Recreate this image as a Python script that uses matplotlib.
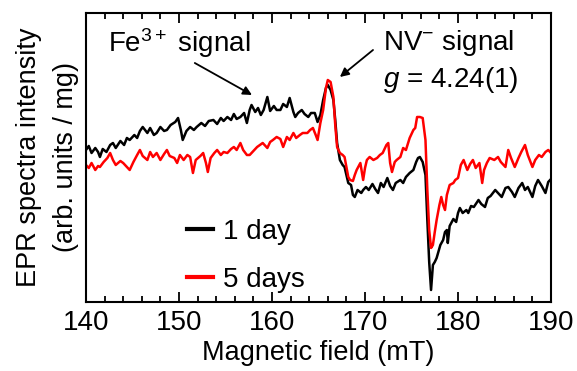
import matplotlib
matplotlib.use("Agg")
import matplotlib.pyplot as plt
from matplotlib.ticker import MultipleLocator

plt.rcParams['font.family'] = ['Liberation Sans', 'DejaVu Sans']
plt.rcParams['mathtext.fontset'] = 'custom'
plt.rcParams['mathtext.rm'] = 'Liberation Sans'
plt.rcParams['mathtext.it'] = 'Liberation Sans:italic'
plt.rcParams['mathtext.default'] = 'regular'

# 1 day sample (field in mT, intensity in arb. units)
field_1d = [140.0, 140.3, 140.6, 141.0, 141.3, 141.5, 141.8, 142.2, 142.6, 142.9,
            143.2, 143.7, 144.1, 144.4, 144.7, 145.2, 145.5, 145.8, 146.1, 146.6,
            146.9, 147.3, 147.6, 148.0, 148.4, 148.7, 149.1, 149.6, 149.9, 150.2,
            150.4, 150.8, 151.2, 151.6, 151.9, 152.4, 152.8, 153.2, 153.7, 154.1,
            154.5, 154.8, 155.2, 155.6, 155.9, 156.2, 156.6, 157.0, 157.3, 157.6,
            157.8, 158.2, 158.5, 158.8, 159.1, 159.5, 159.8, 160.2, 160.5, 160.9,
            161.2, 161.6, 161.9, 162.3, 162.5, 162.8, 163.2, 163.5, 163.9, 164.2,
            164.6, 164.9, 165.2, 165.5, 165.8, 166.0, 166.3, 166.6, 166.8, 167.0,
            167.3, 167.6, 167.8, 168.2, 168.5, 168.7, 168.9, 169.2, 169.6, 169.8,
            170.1, 170.4, 170.8, 171.1, 171.4, 171.7, 172.0, 172.4, 172.7, 173.0,
            173.3, 173.8, 174.1, 174.4, 174.8, 175.2, 175.5, 175.7, 175.9, 176.2,
            176.5, 176.7, 176.9, 177.1, 177.3, 177.5, 177.7, 178.1, 178.4, 178.6,
            178.8, 178.9, 179.1, 179.5, 179.8, 180.0, 180.2, 180.5, 180.9, 181.1,
            181.4, 181.7, 182.2, 182.5, 182.9, 183.2, 183.5, 184.0, 184.3, 184.7,
            185.1, 185.4, 185.8, 186.1, 186.5, 186.9, 187.2, 187.5, 188.0, 188.3,
            188.6, 189.0, 189.4, 189.7, 189.9]
signal_1d = [152, 156, 149, 154, 150, 145, 153, 150, 157, 159,
             154, 161, 157, 164, 162, 167, 164, 171, 175, 169,
             174, 167, 169, 175, 171, 172, 177, 180, 184, 172,
             162, 171, 175, 172, 175, 179, 176, 181, 182, 178,
             184, 181, 185, 182, 188, 183, 185, 189, 179, 192,
             197, 190, 194, 187, 192, 205, 191, 196, 192, 192,
             198, 195, 204, 190, 185, 189, 192, 188, 185, 189,
             189, 180, 187, 202, 214, 217, 212, 202, 182, 159,
             142, 137, 135, 119, 117, 107, 105, 112, 109, 112,
             115, 112, 118, 113, 109, 119, 115, 124, 116, 112,
             119, 122, 119, 125, 129, 132, 140, 144, 145, 140,
             127, 82, 40, 12, 37, 40, 44, 57, 62, 70,
             72, 59, 76, 83, 80, 89, 94, 89, 92, 89,
             96, 95, 102, 98, 95, 104, 106, 112, 109, 105,
             114, 115, 110, 105, 114, 119, 112, 115, 105, 116,
             122, 116, 109, 120, 122]

# 5 days sample
field_5d = [140.0, 140.3, 140.6, 141.0, 141.3, 141.5, 141.9, 142.3, 142.6, 142.9,
            143.2, 143.7, 144.0, 144.4, 144.7, 145.1, 145.5, 145.8, 146.1, 146.6,
            146.9, 147.2, 147.6, 148.0, 148.4, 148.7, 149.0, 149.5, 149.8, 150.1,
            150.5, 150.9, 151.2, 151.5, 151.8, 152.3, 152.6, 152.9, 153.1, 153.4,
            153.8, 154.1, 154.5, 154.8, 155.2, 155.6, 155.9, 156.2, 156.6, 156.9,
            157.3, 157.6, 158.1, 158.4, 158.7, 159.0, 159.5, 159.8, 160.1, 160.5,
            160.9, 161.2, 161.6, 161.9, 162.3, 162.6, 163.0, 163.3, 163.8, 164.1,
            164.4, 164.7, 164.9, 165.2, 165.5, 165.8, 166.0, 166.3, 166.6, 166.8,
            167.0, 167.3, 167.6, 167.8, 168.2, 168.4, 168.7, 168.9, 169.1, 169.5,
            169.8, 170.0, 170.2, 170.5, 170.9, 171.3, 171.6, 171.9, 172.3, 172.5,
            172.7, 172.9, 173.2, 173.4, 173.8, 174.1, 174.4, 174.8, 175.2, 175.4,
            175.6, 175.9, 176.2, 176.5, 176.7, 176.9, 177.1, 177.3, 177.5, 177.7,
            178.0, 178.2, 178.4, 178.6, 178.8, 179.1, 179.5, 179.7, 180.0, 180.3,
            180.6, 181.0, 181.3, 181.6, 181.9, 182.3, 182.6, 182.8, 183.1, 183.4,
            183.9, 184.3, 184.6, 185.1, 185.4, 185.7, 186.1, 186.5, 186.8, 187.2,
            187.5, 188.0, 188.3, 188.7, 189.0, 189.4, 189.7, 189.9]
signal_5d = [137, 134, 139, 132, 136, 135, 140, 144, 149, 142,
             137, 141, 139, 135, 132, 140, 147, 152, 146, 142,
             150, 145, 149, 142, 148, 152, 146, 144, 139, 147,
             142, 147, 145, 129, 142, 146, 149, 139, 130, 144,
             149, 152, 147, 150, 149, 153, 155, 152, 159, 152,
             147, 147, 152, 155, 157, 159, 154, 160, 162, 165,
             163, 155, 165, 162, 169, 164, 167, 169, 169, 172,
             174, 167, 162, 179, 192, 214, 222, 220, 205, 177,
             155, 149, 147, 145, 125, 122, 121, 127, 132, 139,
             122, 134, 142, 145, 142, 144, 147, 149, 157, 159,
             139, 130, 140, 142, 145, 154, 152, 164, 172, 174,
             185, 185, 184, 162, 112, 72, 54, 57, 70, 82,
             97, 105, 97, 92, 107, 117, 119, 122, 124, 137,
             142, 132, 138, 142, 134, 139, 119, 132, 139, 144,
             142, 145, 140, 135, 152, 144, 135, 144, 150, 157,
             147, 135, 142, 147, 145, 150, 152, 150]

fig = plt.figure(figsize=(5.77, 3.71), dpi=100)
ax = fig.add_axes([0.149, 0.186, 0.806, 0.779])

ax.plot(field_1d, signal_1d, color='black', lw=1.8, label='1 day')
ax.plot(field_5d, signal_5d, color='red', lw=1.8, label='5 days')

ax.set_xlim(140, 190)
ax.set_ylim(0, 289)
ax.xaxis.set_major_locator(MultipleLocator(10))
ax.xaxis.set_minor_locator(MultipleLocator(2))
ax.tick_params(axis='x', which='both', direction='in', top=True, labelsize=20,
               width=1.3, pad=6)
ax.tick_params(axis='x', which='major', length=7)
ax.tick_params(axis='x', which='minor', length=4)
ax.set_yticks([])
for s in ax.spines.values():
    s.set_linewidth(1.5)

ax.set_xlabel('Magnetic field (mT)', fontsize=19.5, labelpad=3)
ax.set_ylabel('EPR spectra intensity\n(arb. units / mg)', fontsize=19.5,
              linespacing=1.55, labelpad=5)

ax.annotate('', xy=(157.85, 207), xytext=(151.7, 239),
            arrowprops=dict(arrowstyle='-|>', color='black', lw=1.3,
                            mutation_scale=13, shrinkA=0, shrinkB=0))
ax.annotate('', xy=(167.3, 225), xytext=(170.86, 252),
            arrowprops=dict(arrowstyle='-|>', color='black', lw=1.3,
                            mutation_scale=13, shrinkA=0, shrinkB=0))
ax.text(142.4, 259, 'Fe$^{3+}$ signal', fontsize=20, va='center', ha='left')
ax.text(171.9, 259, 'NV$^{-}$ signal', fontsize=20, va='center', ha='left')
ax.text(171.9, 222, '$\\mathit{g}$ = 4.24(1)', fontsize=20, va='center', ha='left')

leg = ax.legend(loc='lower left', bbox_to_anchor=(0.217, 0.031), frameon=False,
                fontsize=20, handlelength=0.95, handletextpad=0.36,
                labelspacing=0.8, borderpad=0, borderaxespad=0)
for line in leg.get_lines():
    line.set_linewidth(3)

fig.savefig('out.png', dpi=100)
